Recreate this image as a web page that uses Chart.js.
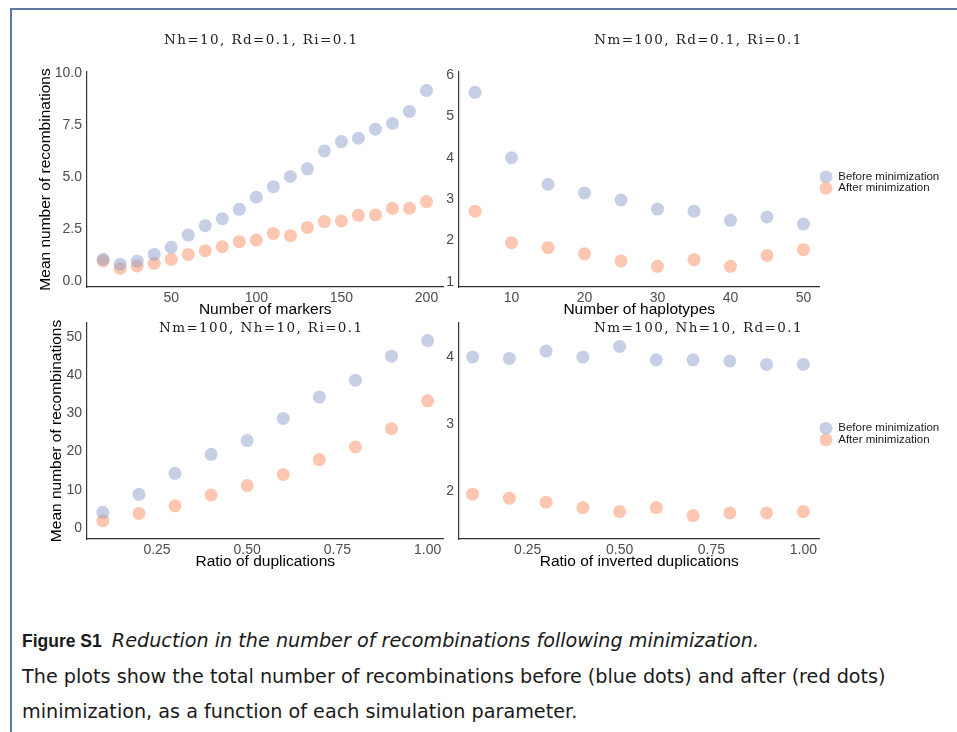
<!DOCTYPE html>
<html>
<head>
<meta charset="utf-8">
<script src="https://cdn.jsdelivr.net/npm/chart.js@4.4.1/dist/chart.umd.min.js"></script>
<style>
  html, body { margin: 0; padding: 0; background: #fff; }
  body { width: 957px; height: 732px; position: relative; overflow: hidden; }
  .frame { position: absolute; left: 10px; top: 8px; width: 960px; height: 740px;
           border-top: 2px solid #5a7aa2; border-left: 2px solid #5a7aa2; }
  canvas { position: absolute; }
  .caption { position: absolute; left: 22px; top: 623px; line-height: 35px; white-space: nowrap;
             font-family: "DejaVu Sans", sans-serif; font-size: 19.2px; color: #1a1a1a; }
  .caption b { font-family: "Liberation Sans", Arial, sans-serif; font-size: 17.5px; font-weight: 700; }
  .caption i { font-style: italic; margin-left: 4px; }
</style>
</head>
<body>
<div class="frame"></div>
<canvas id="tl" width="450" height="300" style="left:0;top:25px"></canvas>
<canvas id="tr" width="517" height="300" style="left:440px;top:25px"></canvas>
<canvas id="bl" width="450" height="262" style="left:0;top:315px"></canvas>
<canvas id="br" width="517" height="262" style="left:440px;top:315px"></canvas>
<div class="caption">
  <b>Figure S1</b> <i>Reduction in the number of recombinations following minimization.</i><br>
  The plots show the total number of recombinations before (blue dots) and after (red dots)<br>
  minimization, as a function of each simulation parameter.
</div>
<script>
// --- data ---
const markers = [10, 20, 30, 40, 50, 60, 70, 80, 90, 100, 110, 120, 130, 140, 150, 160, 170, 180, 190, 200];
const markersBefore = [1.03, 0.80, 0.95, 1.27, 1.61, 2.20, 2.65, 2.99, 3.44, 4.02, 4.53, 5.02, 5.39, 6.25, 6.70, 6.86, 7.30, 7.57, 8.15, 9.16];
const markersAfter  = [0.96, 0.59, 0.71, 0.84, 1.03, 1.27, 1.45, 1.64, 1.88, 1.96, 2.28, 2.17, 2.57, 2.85, 2.88, 3.15, 3.17, 3.49, 3.49, 3.81];

const haplotypes = [5, 10, 15, 20, 25, 30, 35, 40, 45, 50];
const haploBefore = [5.58, 4.00, 3.36, 3.15, 2.98, 2.76, 2.71, 2.49, 2.57, 2.40];
const haploAfter  = [2.71, 1.95, 1.83, 1.68, 1.51, 1.38, 1.54, 1.38, 1.64, 1.78];

const ratios = [0.1, 0.2, 0.3, 0.4, 0.5, 0.6, 0.7, 0.8, 0.9, 1.0];
const dupBefore = [4.1, 8.8, 14.3, 19.3, 22.9, 28.7, 34.3, 38.7, 45.0, 49.1];
const dupAfter  = [1.9, 3.8, 5.8, 8.6, 11.1, 14.0, 17.9, 21.2, 26.0, 33.3];
const invBefore = [4.00, 3.98, 4.09, 4.00, 4.16, 3.96, 3.96, 3.94, 3.89, 3.89];
const invAfter  = [1.95, 1.89, 1.83, 1.75, 1.69, 1.75, 1.63, 1.67, 1.67, 1.69];

// tick labels
const markerXTicks = [50, 100, 150, 200];
const markerYTicks = [0, 2.5, 5, 7.5, 10];
const haploXTicks = [10, 20, 30, 40, 50];
const haploYTicks = [1, 2, 3, 4, 5, 6];
const ratioXTicks = [0.25, 0.5, 0.75, 1.0];
const dupYTicks = [0, 10, 20, 30, 40, 50];
const invYTicks = [2, 3, 4];

const SANS = '"Liberation Sans", Arial, sans-serif';
const BLUE = 'rgba(141,160,203,0.5)';
const ORANGE = 'rgba(252,141,98,0.5)';

// panel title drawn inside the canvas (ggplot puts it over the panel)
const panelTitle = {
  id: 'panelTitle',
  afterDraw(chart, args, o) {
    const {ctx, chartArea} = chart;
    const lg = chart.legend;
    const right = lg && lg.options.display ? lg.right : chartArea.right;
    ctx.save();
    ctx.font = '13.5px "DejaVu Serif", serif';
    ctx.letterSpacing = '1.4px';
    ctx.fillStyle = '#222';
    ctx.textAlign = 'center';
    ctx.textBaseline = 'middle';
    ctx.fillText(o.text, (chartArea.left + right) / 2 + o.dx, chartArea.top + o.dy);
    ctx.restore();
  }
};

function panel(id, c) {
  const pts = ys => c.x.map((v, i) => ({x: v, y: ys[i]}));
  return new Chart(document.getElementById(id), {
    type: 'scatter',
    data: {
      datasets: [
        {label: 'Before minimization', data: pts(c.before), backgroundColor: BLUE, borderWidth: 0, pointRadius: 6.5},
        {label: 'After minimization', data: pts(c.after), backgroundColor: ORANGE, borderWidth: 0, pointRadius: 6.5}
      ]
    },
    options: {
      responsive: false,
      animation: false,
      events: [],
      layout: {padding: c.pad},
      plugins: {
        tooltip: {enabled: false},
        legend: {
          display: c.legend, position: 'right', fullSize: false, align: 'center',
          // empty title only nudges the two keys down a little
          title: {display: true, text: '', padding: 0, font: {size: 5, lineHeight: 1.2}},
          labels: {usePointStyle: true, pointStyle: 'circle', boxHeight: 9, pointStyleWidth: 13, padding: 0,
                   color: '#1a1a1a', font: {family: SANS, size: 11.5}}
        },
        panelTitle: {text: c.title, dx: -4, dy: c.titleDy}
      },
      scales: {
        x: {
          type: 'linear', min: c.xMin, max: c.xMax,
          afterBuildTicks: s => { s.ticks = c.xTicks.map(v => ({value: v})); },
          afterFit: s => { s.height = 38; s.paddingLeft = 0; s.paddingRight = 0; },
          grid: {display: false, drawTicks: false},
          border: {display: true, color: '#333', width: 1.2},
          ticks: {padding: 3, color: '#4d4d4d', font: {family: SANS, size: 14}, callback: c.xFmt},
          title: {display: true, text: c.xTitle, color: '#000', font: {family: SANS, size: 15.5}, padding: {top: 0, bottom: 5.7}}
        },
        y: {
          type: 'linear', min: c.yMin, max: c.yMax,
          afterBuildTicks: s => { s.ticks = c.yTicks.map(v => ({value: v})); },
          afterFit: s => { s.width = c.yWidth; s.paddingTop = 0; s.paddingBottom = 0; },
          grid: {display: false, drawTicks: false},
          border: {display: true, color: '#333', width: 1.2},
          ticks: {padding: 5, color: '#4d4d4d', font: {family: SANS, size: 14}, callback: c.yFmt},
          title: {display: !!c.yTitle, text: c.yTitle, color: '#000', font: {family: SANS, size: 15.5}, padding: {top: c.yTitlePad, bottom: 0}}
        }
      }
    },
    plugins: [panelTitle]
  });
}

const fmt1 = v => v.toFixed(1);
const fmt2 = v => v.toFixed(2);
const fmt0 = v => String(v);
const yLabel = 'Mean number of recombinations';

panel('tl', {
  x: markers, before: markersBefore, after: markersAfter,
  xMin: 0.5, xMax: 210, yMin: -0.3, yMax: 10.05, xTicks: markerXTicks, yTicks: markerYTicks,
  xFmt: fmt0, yFmt: fmt1, xTitle: 'Number of markers', yTitle: yLabel, yTitlePad: 36.7, yWidth: 87,
  title: 'Nh=10, Rd=0.1, Ri=0.1', titleDy: -32, legend: false,
  pad: {left: 0, top: 47, right: 5, bottom: 0}
});
panel('tr', {
  x: haplotypes, before: haploBefore, after: haploAfter,
  xMin: 2.8, xMax: 52.2, yMin: 0.88, yMax: 6.07, xTicks: haploXTicks, yTicks: haploYTicks,
  xFmt: fmt0, yFmt: fmt0, xTitle: 'Number of haplotypes', yTitle: '', yTitlePad: 0, yWidth: 19,
  title: 'Nm=100, Rd=0.1, Ri=0.1', titleDy: -32, legend: true,
  pad: {left: 0, top: 47, right: 11, bottom: 0}
});
panel('bl', {
  x: ratios, before: dupBefore, after: dupAfter,
  xMin: 0.056, xMax: 1.044, yMin: -2.9, yMax: 53.7, xTicks: ratioXTicks, yTicks: dupYTicks,
  xFmt: fmt2, yFmt: fmt0, xTitle: 'Ratio of duplications', yTitle: yLabel, yTitlePad: 47.7, yWidth: 87,
  title: 'Nm=100, Nh=10, Ri=0.1', titleDy: 5, legend: false,
  pad: {left: 0, top: 8, right: 6, bottom: 0}
});
panel('br', {
  x: ratios, before: invBefore, after: invAfter,
  xMin: 0.063, xMax: 1.044, yMin: 1.28, yMax: 4.51, xTicks: ratioXTicks, yTicks: invYTicks,
  xFmt: fmt2, yFmt: fmt0, xTitle: 'Ratio of inverted duplications', yTitle: '', yTitlePad: 0, yWidth: 19,
  title: 'Nm=100, Nh=10, Rd=0.1', titleDy: 5, legend: true,
  pad: {left: 0, top: 8, right: 11, bottom: 0}
});
</script>
</body>
</html>
